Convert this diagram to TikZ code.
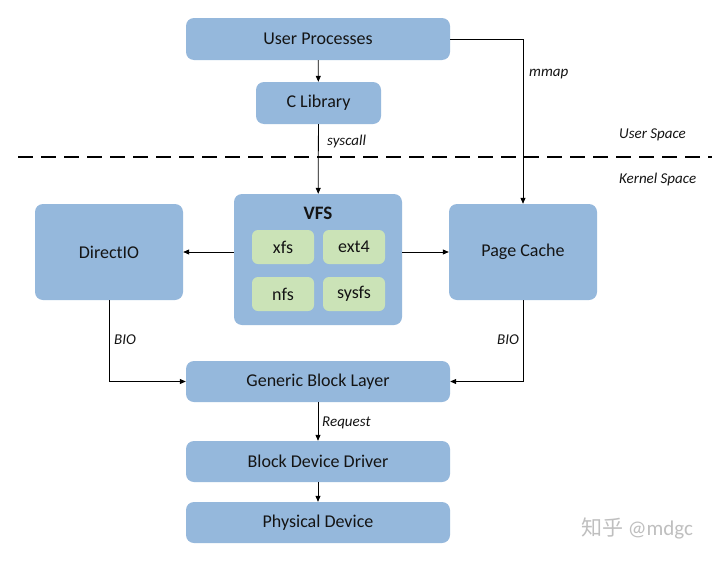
\documentclass[tikz,border=0pt]{standalone}
\usepackage{fontspec}
\setmainfont{Carlito}
\newfontfamily\cjk{Noto Sans CJK SC}
\usetikzlibrary{arrows.meta}
\definecolor{boxblue}{RGB}{149,184,220}
\definecolor{boxgreen}{RGB}{203,227,183}
\definecolor{txt}{RGB}{20,20,20}
\begin{document}
\begin{tikzpicture}[x=1pt,y=-1pt,
  bluebox/.style={draw=none,fill=boxblue,rounded corners=8pt,inner sep=0pt,font=\fontsize{18}{20}\selectfont,text=txt},
  greenbox/.style={draw=none,fill=boxgreen,rounded corners=6pt,inner sep=0pt,minimum width=62pt,minimum height=34pt,font=\fontsize{18}{20}\selectfont,text=txt},
  lbl/.style={font=\fontsize{15}{17}\selectfont\itshape,text=txt,inner sep=0pt},
  conn/.style={line width=0.8pt,-{Triangle[length=6pt,width=5pt]}},
  plain/.style={line width=0.8pt}]
\useasboundingbox (0,0) rectangle (720,562);
\fill[white] (0,0) rectangle (720,562);

% boxes
\node[bluebox,minimum width=264pt,minimum height=42pt] (up) at (318,39) {User Processes};
\node[bluebox,minimum width=125pt,minimum height=42pt] (clib) at (318.5,103) {C Library};
\node[bluebox,minimum width=168pt,minimum height=131pt] (vfs) at (318,259.5) {};
\node[font=\fontsize{19}{21}\selectfont\bfseries,text=txt,inner sep=0pt] (vfst) at (318,213) {VFS};
\node[greenbox] (xfs) at (283,247) {xfs};
\node[greenbox] (ext4) at (354,247) {ext4};
\node[greenbox] (nfs) at (283,294) {nfs};
\node[greenbox] (sysfs) at (354,294) {sysfs};
\node[bluebox,minimum width=148pt,minimum height=96pt] (dio) at (109,252) {DirectIO};
\node[bluebox,minimum width=148pt,minimum height=96pt] (pc) at (523,252) {Page Cache};
\node[bluebox,minimum width=264pt,minimum height=41pt] (gbl) at (318,381.5) {Generic Block Layer};
\node[bluebox,minimum width=264pt,minimum height=41pt] (bdd) at (318,461.5) {Block Device Driver};
\node[bluebox,minimum width=264pt,minimum height=41pt] (phy) at (318,522.5) {Physical Device};

% separator
\coordinate (sepL) at (18,157);
\coordinate (sepR) at (712,157);
\draw[line width=1.4pt,dash pattern=on 15pt off 8pt] (sepL) -- (sepR);
\node[lbl,anchor=west] (us) at (619,135) {User Space};
\node[lbl,anchor=west] (ks) at (619,179) {Kernel Space};

% connectors
\draw[conn] (up) -- (clib);
\draw[conn] (clib) -- (vfs);
\node[lbl,anchor=west] (sc) at (327,141) {syscall};
\coordinate (mm) at (523,39);
\draw[conn] (up.east |- mm) -- (mm) -- (pc.north);
\node[lbl,anchor=west] (mml) at (529,74) {mmap};
\draw[conn] (vfs.west |- dio) -- (dio.east);
\draw[conn] (vfs.east |- pc) -- (pc.west);
\coordinate (dl) at (109,381.5);
\coordinate (pl) at (523,381.5);
\draw[conn] (dio.south) -- (dl) -- (gbl.west);
\draw[conn] (pc.south) -- (pl) -- (gbl.east);
\node[lbl] (bio1) at (125,340) {BIO};
\node[lbl] (bio2) at (508,340) {BIO};
\draw[conn] (gbl) -- (bdd);
\node[lbl,anchor=west] (req) at (322,423) {Request};
\draw[conn] (bdd) -- (phy);

% watermark
\node[font=\fontsize{21}{23}\selectfont,text=black!25,inner sep=0pt] (wm) at (637,528) {{\cjk 知乎} @mdgc};
\end{tikzpicture}
\end{document}
